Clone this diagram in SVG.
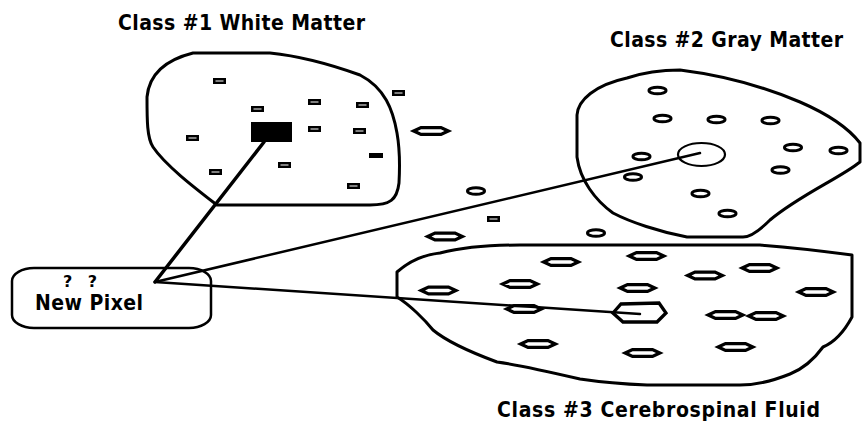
<svg xmlns="http://www.w3.org/2000/svg" xmlns:xlink="http://www.w3.org/1999/xlink" width="862" height="426" viewBox="0 0 862 426">
<style>
.title{font-family:"DejaVu Sans Condensed","DejaVu Sans","Liberation Sans",sans-serif;font-stretch:condensed;font-weight:bold;font-size:21px;fill:#000}
.blob{fill:none;stroke:#000;stroke-width:3;stroke-linejoin:round}
.pt{fill:#fff;stroke:#000;stroke-width:2.5}
.ptf{fill:#000}
.cir{fill:#fff;stroke:#000;stroke-width:3}
.hex{fill:#fff;stroke:#000;stroke-width:3.3;stroke-linejoin:miter}
.conn{stroke:#000;fill:none;stroke-linecap:round}
</style>
<defs>
<path id="hx" class="hex" d="M-17.3,0 L-10,-3.4 L10,-3.4 L17.3,0 L10,3.4 L-10,3.4 Z"/>
<rect id="sq" class="pt" x="1.25" y="1.25" width="10.5" height="3.5"/>
</defs>
<rect width="862" height="426" fill="#fff"/>

<g id="class1">
<text class="title" x="118" y="30" textLength="247" lengthAdjust="spacing">Class #1 White Matter</text>
<path class="blob" d="M193,53 L270,53 C300,56 335,66 360,75 C385,88 393,110 397,133 C400,150 400,165 399,183 C397,200 390,205 370,205 L217,205 C195,188 165,165 153,147 C147,138 147,120 147,97 C149,75 165,60 193,53 Z"/>
<use xlink:href="#sq" x="213" y="78"/>
<use xlink:href="#sq" x="251" y="106"/>
<use xlink:href="#sq" x="308" y="99"/>
<use xlink:href="#sq" x="356" y="102"/>
<use xlink:href="#sq" x="186" y="135"/>
<use xlink:href="#sq" x="308" y="126"/>
<use xlink:href="#sq" x="353" y="128"/>
<rect class="ptf" x="369" y="153" width="14" height="5"/>
<use xlink:href="#sq" x="278" y="162"/>
<use xlink:href="#sq" x="209" y="169"/>
<use xlink:href="#sq" x="347" y="183"/>
<rect class="ptf" x="251" y="122" width="41" height="20"/>
</g>

<g id="class2">
<text class="title" x="610" y="47" textLength="233" lengthAdjust="spacing">Class #2 Gray Matter</text>
<path class="blob" d="M577,115 C578,100 595,85 627,78 C645,72 660,70 680,70 C720,75 760,85 800,102 C830,115 850,130 860,143 L860,162 C840,178 800,195 770,220 C760,230 750,237 743,237 L687,237 C660,232 630,222 613,213 C595,200 580,180 577,157 Z"/>
<ellipse class="cir" cx="657.5" cy="90.5" rx="8.5" ry="3.3"/>
<ellipse class="cir" cx="662.5" cy="118.5" rx="8.5" ry="3.3"/>
<ellipse class="cir" cx="716.5" cy="119.5" rx="8.5" ry="3.3"/>
<ellipse class="cir" cx="770.5" cy="120.5" rx="8.5" ry="3.3"/>
<ellipse class="cir" cx="793" cy="147.5" rx="8.5" ry="3.3"/>
<ellipse class="cir" cx="838.5" cy="150.5" rx="8.5" ry="3.3"/>
<ellipse class="cir" cx="641.5" cy="156.5" rx="8.5" ry="3.3"/>
<ellipse class="cir" cx="633" cy="177" rx="8.5" ry="3.3"/>
<ellipse class="cir" cx="780.5" cy="170" rx="8.5" ry="3.3"/>
<ellipse class="cir" cx="700.5" cy="193.5" rx="8.5" ry="3.3"/>
<ellipse class="cir" cx="727.5" cy="213.5" rx="8.5" ry="3.3"/>
<ellipse cx="701.5" cy="154.5" rx="23.5" ry="11.5" fill="#fff" stroke="#000" stroke-width="2.2"/>
</g>

<g id="class3">
<text class="title" x="497" y="417" textLength="323" lengthAdjust="spacing">Class #3 Cerebrospinal Fluid</text>
<path class="blob" d="M397,272 C405,265 420,255 440,253 C460,248 490,245 520,245 L760,245 C800,248 830,252 852,255 L852,317 C845,330 835,342 823,347 C815,358 805,368 790,374 C770,382 755,385 740,385 L647,385 C620,384 600,382 580,379 C550,372 520,365 497,362 C470,352 445,340 433,330 C425,320 410,305 397,297 Z"/>
<use xlink:href="#hx" x="561" y="262"/>
<use xlink:href="#hx" x="646.5" y="256"/>
<use xlink:href="#hx" x="759.5" y="268"/>
<use xlink:href="#hx" x="705" y="275.5"/>
<use xlink:href="#hx" x="520" y="284"/>
<use xlink:href="#hx" x="438.5" y="290.5"/>
<use xlink:href="#hx" x="637.5" y="288"/>
<use xlink:href="#hx" x="816" y="292"/>
<use xlink:href="#hx" x="524" y="309"/>
<use xlink:href="#hx" x="725.5" y="315"/>
<use xlink:href="#hx" x="766" y="316"/>
<use xlink:href="#hx" x="538" y="344"/>
<use xlink:href="#hx" x="735.5" y="347"/>
<use xlink:href="#hx" x="642.5" y="353"/>
<path class="hex" d="M613,313 L621,304 L659,303 L666,313 L657,322 L623,322 Z"/>
</g>

<g id="scattered">
<use xlink:href="#sq" x="392" y="90"/>
<use xlink:href="#sq" x="487" y="216"/>
<use xlink:href="#hx" x="431" y="131"/>
<use xlink:href="#hx" x="445" y="236.5"/>
<ellipse class="cir" cx="476" cy="191" rx="8.5" ry="3.3"/>
<ellipse class="cir" cx="596" cy="233" rx="8.5" ry="3.3"/>
</g>

<g id="new-pixel">
<rect x="12" y="268" width="199" height="60" rx="22" ry="13" fill="#fff" stroke="#000" stroke-width="2.5"/>
<text x="63" y="287" font-family="DejaVu Sans, Liberation Sans, sans-serif" font-size="16" font-weight="bold" textLength="34" lengthAdjust="spacing">??</text>
<text class="title" x="35" y="310" textLength="108" lengthAdjust="spacing">New Pixel</text>
</g>

<g id="connectors">
<line class="conn" x1="155" y1="282" x2="264" y2="142" stroke-width="3.5"/>
<line class="conn" x1="155" y1="282" x2="700" y2="153" stroke-width="2.5"/>
<line class="conn" x1="155" y1="282" x2="640" y2="314" stroke-width="2.5"/>
</g>
</svg>
